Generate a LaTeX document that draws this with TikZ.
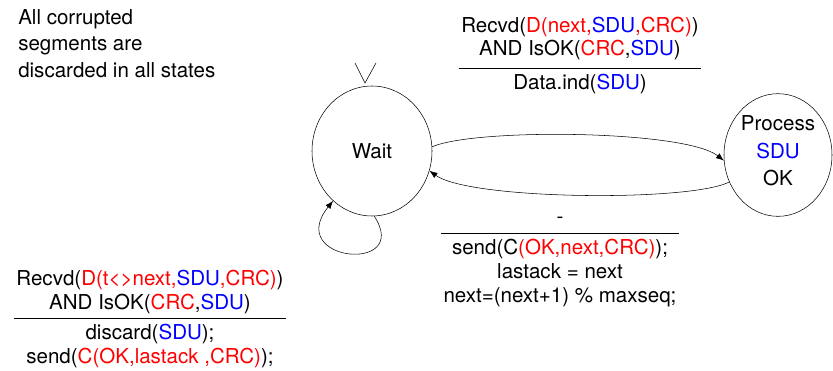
\documentclass[tikz,border=0pt]{standalone}
\usepackage{fontspec}
\setmainfont{TeX Gyre Heros}
\usepackage{xcolor}
\usetikzlibrary{arrows.meta, shapes.geometric}
\definecolor{sigred}{RGB}{255,0,0}
\definecolor{sigblue}{RGB}{0,0,255}
\newcommand{\rd}[1]{\textcolor{sigred}{#1}}
\newcommand{\bl}[1]{\textcolor{sigblue}{#1}}

\begin{document}
\begin{tikzpicture}[
    x=0.75pt, y=0.75pt,
    state/.style={draw, ellipse, thin, inner sep=0pt, align=center,
                  font=\fontsize{15.4}{20.5}\selectfont},
    lbl/.style={inner sep=0pt, font=\fontsize{15.4}{18}\selectfont},
    note/.style={inner sep=0pt, align=left, anchor=north west,
                 font=\fontsize{15.4}{20}\selectfont},
    flow/.style={-{Latex[length=6pt,width=4.5pt]}, thin},
]
\useasboundingbox (0,0) rectangle (833,-371);
\node[note] (rule) at (18,-9) {All corrupted\\segments are\\discarded in all states};
\node[state, minimum width=90pt, minimum height=97.5pt] (wait) at (372,-151) {Wait};
\node[state, minimum width=81pt, minimum height=92pt, text depth=6.5pt] (proc) at (778,-155)
   {Process\\ \bl{SDU}\\ OK};
% initial mark
\draw (355,-63) -- (365,-83) -- (376,-63);
\node[lbl] (trig) at (580,-56)
   {\setlength{\tabcolsep}{2pt}\begin{tabular}{c}
    Recvd(\rd{D(next,}\bl{SDU}\rd{,CRC)})\\
    AND IsOK(\rd{CRC},\bl{SDU})\\[3.6pt] \hline
    \rule{0pt}{15.8pt}Data.ind(\bl{SDU})
    \end{tabular}};
\node[lbl] (ack) at (560,-258)
   {\setlength{\tabcolsep}{2pt}\begin{tabular}{c}
    -\\[2pt] \hline
    \rule{0pt}{15.8pt}send(C\rd{(OK,next,CRC)});\\
    lastack = next\\
    next=(next+1) \% maxseq;
    \end{tabular}};
\node[lbl] (dup) at (150,-320)
   {\setlength{\tabcolsep}{2pt}\begin{tabular}{c}
    Recvd(\rd{D(t<>next,}\bl{SDU}\rd{,CRC)})\\
    AND IsOK(\rd{CRC},\bl{SDU})\\[0.8pt] \hline
    \rule{0pt}{15.8pt}discard(\bl{SDU});\\
    send(\rd{C(OK,lastack ,CRC)});
    \end{tabular}};
\draw[flow] (wait.4) .. controls (475,-128) and (685,-130) .. (proc.186);
\draw[flow] (proc.209) .. controls (690,-202) and (470,-200) .. (wait.-19);
\draw[flow] (wait.-88) .. controls (412,-274) and (284,-262) .. (wait.-128);
\end{tikzpicture}
\end{document}
